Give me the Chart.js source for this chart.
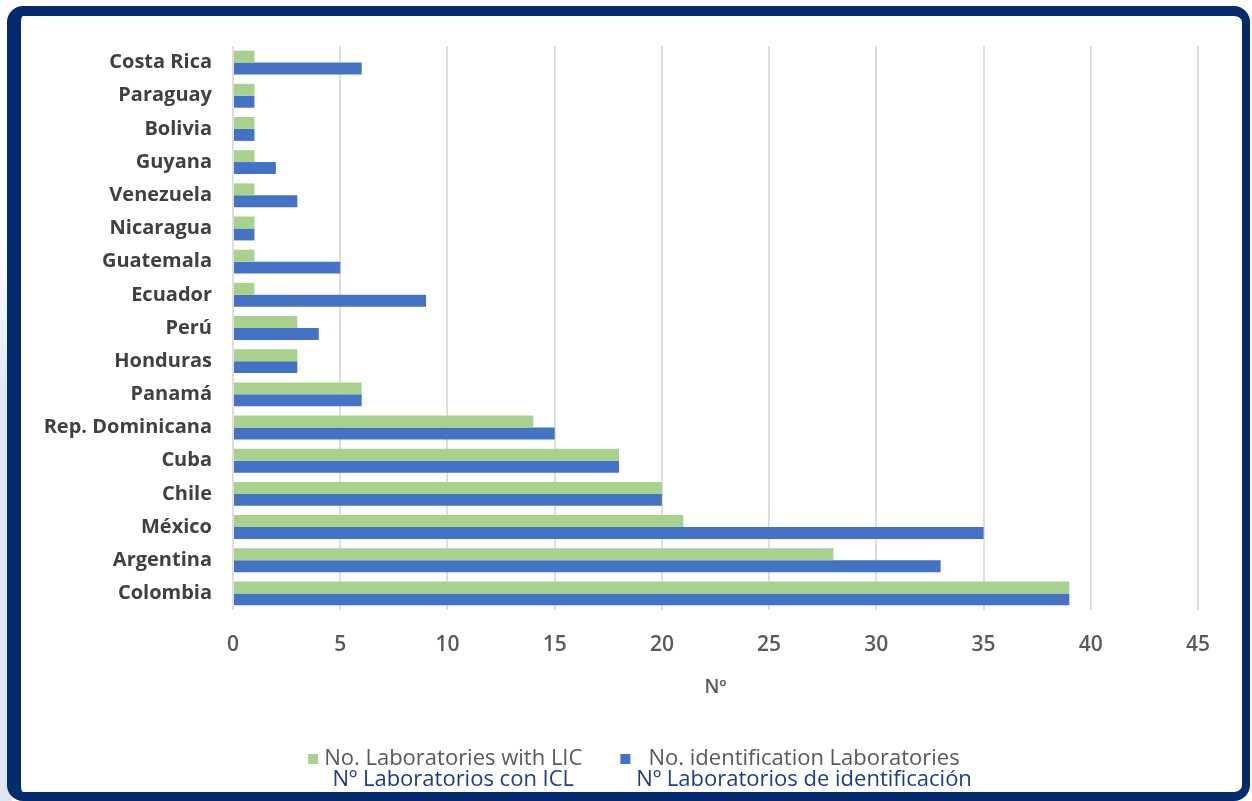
<!DOCTYPE html>
<html>
<head>
<meta charset="utf-8">
<script src="https://cdn.jsdelivr.net/npm/chart.js@4.4.1/dist/chart.umd.min.js"></script>
<style>
  html, body { margin: 0; padding: 0; background: #fff; }
  body { width: 1252px; height: 801px; position: relative; overflow: hidden; }
  #side { position: absolute; left: 0; top: 0; width: 12px; height: 801px;
          background: linear-gradient(to bottom, #ffffff 0%, #ffffff 30%, #dfe6f1 50%, #dfe6f1 100%); }
  #frame { position: absolute; left: 7px; top: 6px; width: 1221px; height: 776px;
           border-style: solid; border-color: #032b6e;
           border-width: 10px 8px 9px 14px; border-radius: 16px; background: #fff; }
  #wrap { position: absolute; left: 0; top: 0; width: 1252px; height: 801px; }
</style>
</head>
<body>
<div id="side"></div>
<div id="frame"></div>
<div id="wrap"><canvas id="myChart" width="1252" height="801"></canvas></div>
<script>
const countries = [
  "Costa Rica", "Paraguay", "Bolivia", "Guyana", "Venezuela", "Nicaragua",
  "Guatemala", "Ecuador", "Perú", "Honduras", "Panamá", "Rep. Dominicana",
  "Cuba", "Chile", "México", "Argentina", "Colombia"
];
const labsWithLic = [1, 1, 1, 1, 1, 1, 1, 1, 3, 3, 6, 14, 18, 20, 21, 28, 39];
const identificationLabs = [6, 1, 1, 2, 3, 1, 5, 9, 4, 3, 6, 15, 18, 20, 35, 33, 39];
const xTicks = [0, 5, 10, 15, 20, 25, 30, 35, 40, 45];
const seriesNames = ["No. Laboratories with LIC", "No. identification Laboratories"];
const seriesNamesEs = ["Nº Laboratorios con ICL", "Nº Laboratorios de identificación"];

const GREEN = "#a9d18e";
const BLUE = "#4472c4";

// two-line legend under the chart: english in grey, spanish in navy
const bilingualLegend = {
  id: "bilingualLegend",
  afterDraw(chart) {
    const ctx = chart.ctx;
    const font = "22px 'Open Sans'";
    const box = 10, gap = 6, itemGap = 38;
    const y1 = 759, y2 = 780, centerX = 640;
    ctx.save();
    ctx.font = font;
    const items = chart.data.datasets.map((ds) => {
      const w = Math.max(ctx.measureText(ds.label).width, ctx.measureText(ds.labelEs).width);
      return { ds, w };
    });
    const total = items.reduce((s, it) => s + box + gap + it.w, 0) + itemGap * (items.length - 1);
    let x = centerX - total / 2;
    ctx.textBaseline = "middle";
    ctx.textAlign = "center";
    items.forEach((it) => {
      ctx.fillStyle = it.ds.backgroundColor;
      ctx.fillRect(x, y1 - box / 2, box, box);
      const cx = x + box + gap + it.w / 2;
      ctx.fillStyle = "#595959";
      ctx.fillText(it.ds.label, cx, y1);
      ctx.fillStyle = "#1f3c88";
      ctx.fillText(it.ds.labelEs, cx, y2);
      x += box + gap + it.w + itemGap;
    });
    ctx.restore();
  }
};

new Chart(document.getElementById("myChart").getContext("2d"), {
  type: "bar",
  data: {
    labels: countries,
    datasets: [
      { label: seriesNames[0], labelEs: seriesNamesEs[0], data: labsWithLic, backgroundColor: GREEN },
      { label: seriesNames[1], labelEs: seriesNamesEs[1], data: identificationLabs, backgroundColor: BLUE }
    ]
  },
  options: {
    indexAxis: "y",
    responsive: false,
    animation: false,
    datasets: { bar: { categoryPercentage: 0.72, barPercentage: 1.0 } },
    layout: { padding: { left: 0, right: 54, top: 46, bottom: 91 } },
    plugins: { legend: { display: false }, tooltip: { enabled: false } },
    scales: {
      x: {
        min: 0,
        max: 45,
        afterBuildTicks: (s) => { s.ticks = xTicks.map((v) => ({ value: v })); },
        afterFit: (s) => { s.height = 100; },
        grid: { color: "#dedede", lineWidth: 2, drawTicks: false },
        border: { display: false },
        ticks: { padding: 22, color: "#595959", font: { family: "Open Sans", size: 21, weight: "600" } },
        title: {
          display: true,
          text: "Nº",
          color: "#595959",
          font: { family: "Open Sans", size: 19, weight: "600" },
          padding: { top: 0, bottom: 11 }
        }
      },
      y: {
        afterFit: (s) => { s.width = 233; },
        grid: { display: false, drawTicks: false },
        border: { display: false },
        ticks: { padding: 21, color: "#404040", font: { family: "Open Sans", size: 20, weight: "bold" } }
      }
    }
  },
  plugins: [bilingualLegend]
});
</script>
</body>
</html>
